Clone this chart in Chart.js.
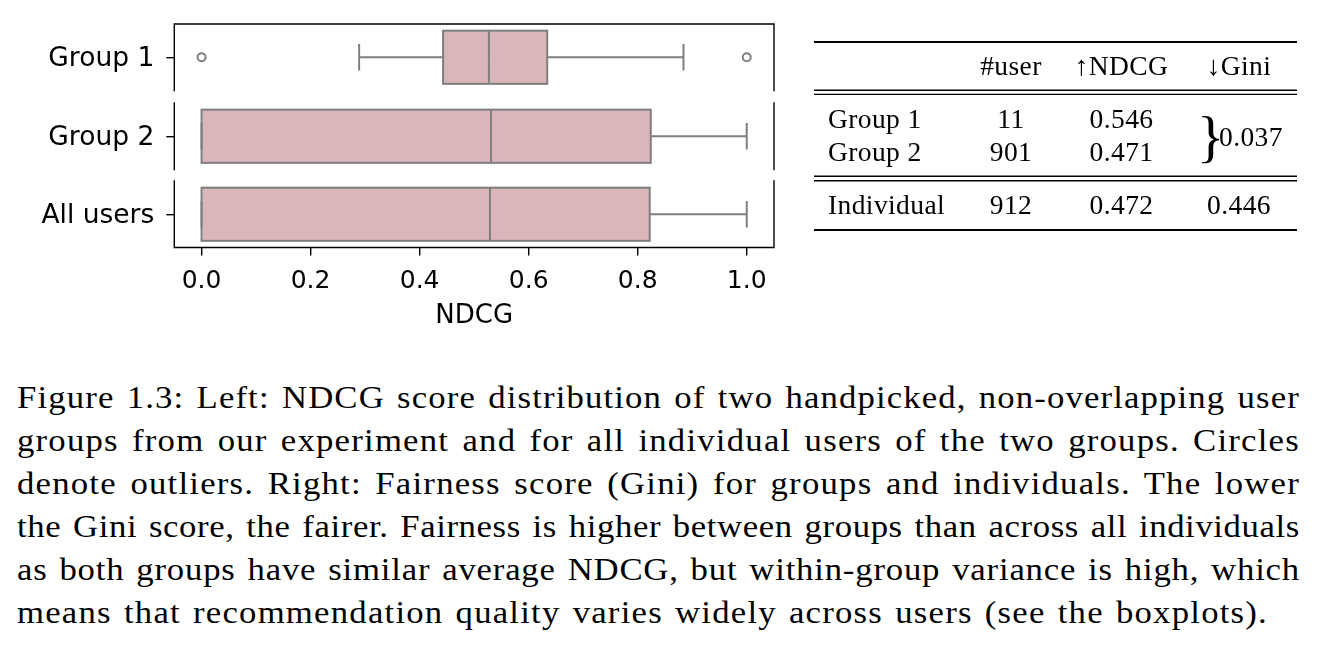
<!DOCTYPE html>
<html>
<head>
<meta charset="utf-8">
<script src="https://cdn.jsdelivr.net/npm/chart.js@4.4.1/dist/chart.umd.min.js"></script>
<style>
  html, body { margin: 0; padding: 0; background: #fff; }
  body { width: 1320px; height: 649px; position: relative; overflow: hidden; }
  canvas.panel { position: absolute; left: 0; }
  #table { position: absolute; left: 0; top: 0; }
  .cap {
    position: absolute; left: 17px; width: 1283px; transform-origin: 0 0;
    font-family: "Liberation Serif", serif; font-size: 31px; line-height: 43.3px;
    color: #000; text-align: justify; text-align-last: left; word-spacing: 2px;
  }
</style>
</head>
<body>
<canvas id="panel0" class="panel"></canvas>
<canvas id="panel1" class="panel"></canvas>
<canvas id="panel2" class="panel"></canvas>
<svg id="table" width="1320" height="260"></svg>
<div id="caption"></div>

<script>
// boxplot data
const groupLabels = ["Group 1", "Group 2", "All users"];
const boxQ1 = [0.443, 0.0, 0.0];
const boxMedian = [0.527, 0.531, 0.529];
const boxQ3 = [0.634, 0.824, 0.822];
const whiskerLow = [0.289, 0.0, 0.0];
const whiskerHigh = [0.884, 1.0, 1.0];
const outlierValues = [[0.0, 1.0], [], []];
const xTickValues = [0.0, 0.2, 0.4, 0.6, 0.8, 1.0];
const xAxisTitle = "NDCG";

// table data
const tableHeader = ["#user", "\u2191NDCG", "\u2193Gini"];
const groupRowLabels = ["Group 1", "Group 2"];
const groupUsers = ["11", "901"];
const groupNdcg = ["0.546", "0.471"];
const groupGini = "0.037";
const individualRow = ["Individual", "912", "0.472", "0.446"];

const captionLines = [
  "Figure 1.3: Left: NDCG score distribution of two handpicked, non-overlapping user",
  "groups from our experiment and for all individual users of the two groups.  Circles",
  "denote outliers.  Right: Fairness score (Gini) for groups and individuals.  The lower",
  "the Gini score, the fairer.  Fairness is higher between groups than across all individuals",
  "as both groups have similar average NDCG, but within-group variance is high, which",
  "means that recommendation quality varies widely across users (see the boxplots).",
];

const BOX_FILL = "#dab6ba";
const BOX_EDGE = "#7f7f7f";
const panelTops = [24, 103, 181];
const panelHeight = 66.5;
const plotLeft = 174.3;
const plotRight = 774;
const canvasWidth = 800;
const topPad = 24;
const sidePad = 20;
const xAxisHeight = 92.5;

Chart.defaults.font.family = "DejaVu Sans";
Chart.defaults.font.size = 25;
Chart.defaults.color = "#000";

// box outline, whiskers, caps and median, placed with the chart's own scales
const boxExtras = {
  id: "boxExtras",
  afterDatasetsDraw(chart) {
    const i = chart.options.plugins.boxExtras.group;
    const x = chart.scales.x;
    const el = chart.getDatasetMeta(0).data[0];
    if (!el) return;
    const cy = el.y;
    const h = el.height;
    const ctx = chart.ctx;
    ctx.save();
    ctx.strokeStyle = BOX_EDGE;
    ctx.lineWidth = 2;
    const x1 = x.getPixelForValue(boxQ1[i]);
    const x3 = x.getPixelForValue(boxQ3[i]);
    ctx.strokeRect(x1, cy - h / 2, x3 - x1, h);
    ctx.beginPath();
    ctx.moveTo(x.getPixelForValue(whiskerLow[i]), cy);
    ctx.lineTo(x1, cy);
    ctx.moveTo(x3, cy);
    ctx.lineTo(x.getPixelForValue(whiskerHigh[i]), cy);
    [whiskerLow[i], whiskerHigh[i]].forEach((v) => {
      const px = x.getPixelForValue(v);
      ctx.moveTo(px, cy - h / 4);
      ctx.lineTo(px, cy + h / 4);
    });
    const mx = x.getPixelForValue(boxMedian[i]);
    ctx.moveTo(mx, cy - h / 2);
    ctx.lineTo(mx, cy + h / 2);
    ctx.stroke();
    ctx.restore();
  },
  afterDraw(chart) {
    const sides = chart.options.plugins.boxExtras.spines;
    const { left, right, top, bottom } = chart.chartArea;
    const ctx = chart.ctx;
    ctx.save();
    ctx.strokeStyle = "#000";
    ctx.lineWidth = 1.4;
    ctx.lineCap = "square";
    ctx.beginPath();
    if (sides.includes("left")) { ctx.moveTo(left, top); ctx.lineTo(left, bottom); }
    if (sides.includes("right")) { ctx.moveTo(right, top); ctx.lineTo(right, bottom); }
    if (sides.includes("top")) { ctx.moveTo(left, top); ctx.lineTo(right, top); }
    if (sides.includes("bottom")) { ctx.moveTo(left, bottom); ctx.lineTo(right, bottom); }
    ctx.stroke();
    ctx.restore();
  },
};

const spineSets = [["left", "right", "top"], ["left", "right"], ["left", "right", "bottom"]];

groupLabels.forEach((label, i) => {
  const last = i === groupLabels.length - 1;
  const canvas = document.getElementById("panel" + i);
  const bottomPad = last ? xAxisHeight : sidePad;
  canvas.width = canvasWidth;
  canvas.height = Math.round(topPad + panelHeight + bottomPad);
  canvas.style.top = panelTops[i] - topPad + "px";
  const bottomSpace = canvas.height - topPad - panelHeight;

  const xScale = {
    type: "linear",
    min: -0.05,
    max: 1.05,
    display: last,
    afterBuildTicks: (scale) => {
      scale.ticks = xTickValues.map((v) => ({ value: v }));
    },
    afterFit: (scale) => {
      scale.paddingLeft = 0;
      scale.paddingRight = 0;
      if (last) scale.height = bottomSpace;
    },
    grid: { drawOnChartArea: false, drawTicks: true, tickLength: 8, color: "#000", lineWidth: 1.4 },
    border: { display: false },
    ticks: { padding: 11, maxRotation: 0, callback: (v) => Number(v).toFixed(1) },
    title: { display: true, text: xAxisTitle, font: { size: 26 }, padding: { top: 0, bottom: 8 } },
  };

  new Chart(canvas, {
    type: "bar",
    data: {
      labels: [label],
      datasets: [
        {
          type: "bar",
          data: [[boxQ1[i], boxQ3[i]]],
          backgroundColor: BOX_FILL,
          borderWidth: 0,
          categoryPercentage: 0.8,
          barPercentage: 1.0,
        },
        {
          type: "scatter",
          data: outlierValues[i].map((v) => ({ x: v, y: label })),
          pointRadius: 4,
          borderWidth: 2,
          borderColor: BOX_EDGE,
          backgroundColor: "rgba(0,0,0,0)",
        },
      ],
    },
    plugins: [boxExtras],
    options: {
      responsive: false,
      animation: false,
      indexAxis: "y",
      layout: { padding: { top: topPad, right: canvasWidth - plotRight, bottom: last ? 0 : bottomSpace, left: 0 } },
      plugins: {
        legend: { display: false },
        tooltip: { enabled: false },
        boxExtras: { group: i, spines: spineSets[i] },
      },
      scales: {
        x: xScale,
        y: {
          type: "category",
          labels: [label],
          offset: true,
          afterFit: (scale) => {
            scale.width = plotLeft;
            scale.paddingTop = 0;
            scale.paddingBottom = 0;
          },
          grid: { offset: false, drawOnChartArea: false, drawTicks: true, tickLength: 8, color: "#000", lineWidth: 1.4 },
          border: { display: false },
          ticks: { padding: 12, labelOffset: 2, font: { size: 26.5 } },
        },
      },
    },
  });
});

// table
const svgNS = "http://www.w3.org/2000/svg";
const svg = document.getElementById("table");
const colCenters = [1011, 1121.5, 1239];
const rowLabelX = 828;
const ruleLeft = 814;
const ruleRight = 1297;

function addRule(y, w) {
  const l = document.createElementNS(svgNS, "line");
  l.setAttribute("x1", ruleLeft);
  l.setAttribute("x2", ruleRight);
  l.setAttribute("y1", y);
  l.setAttribute("y2", y);
  l.setAttribute("stroke", "#000");
  l.setAttribute("stroke-width", w);
  svg.appendChild(l);
}
function addText(str, x, y, anchor, size) {
  const t = document.createElementNS(svgNS, "text");
  t.setAttribute("x", x);
  t.setAttribute("y", y);
  t.setAttribute("text-anchor", anchor);
  t.setAttribute("font-family", "Liberation Serif");
  t.setAttribute("font-size", size || 27.5);
  if (!size) t.setAttribute("letter-spacing", "0.4");
  t.textContent = str;
  svg.appendChild(t);
  return t;
}

addRule(42, 2.2);
addRule(90.2, 1.4);
addRule(94.4, 1.4);
addRule(176.2, 1.4);
addRule(180.8, 1.4);
addRule(230, 2.2);

const groupBaselines = [128, 161];
tableHeader.forEach((h, c) => addText(h, colCenters[c], 75, "middle"));
groupRowLabels.forEach((lab, r) => {
  const y = groupBaselines[r];
  addText(lab, rowLabelX, y, "start");
  addText(groupUsers[r], colCenters[0], y, "middle");
  addText(groupNdcg[r], colCenters[1], y, "middle");
});
addText("}", 1197, 156, "start", 57);
addText(groupGini, 1219, 145.5, "start");
addText(individualRow[0], rowLabelX, 214, "start");
individualRow.slice(1).forEach((v, c) => addText(v, colCenters[c], 214, "middle"));

// caption: one div per printed line, justified like the LaTeX paragraph
const capBox = document.getElementById("caption");
const lineDivs = captionLines.map((txt, i) => {
  const d = document.createElement("div");
  d.className = "cap";
  d.style.top = 375.5 + 43.1 * i + "px";
  const s = document.createElement("span");
  s.textContent = txt;
  d.appendChild(s);
  capBox.appendChild(d);
  return d;
});
const naturalWidths = lineDivs.map((d) => d.firstChild.getBoundingClientRect().width);
const nLast = captionLines.length - 1;
// widen the glyphs a little (Computer Modern is wider than Times)
const stretch = Math.min(1.12, 1251 / naturalWidths[nLast]);
const lastSpacing = (1251 / stretch - naturalWidths[nLast]) / captionLines[nLast].length;
lineDivs.forEach((d, i) => {
  const room = 1281 / stretch;
  const s = Math.min(lastSpacing, (room - naturalWidths[i]) / captionLines[i].length);
  d.style.width = 1283 / stretch + "px";
  d.style.transform = "scaleX(" + stretch + ")";
  d.style.letterSpacing = s + "px";
  if (i < nLast) d.style.textAlignLast = "justify";
});
</script>
</body>
</html>
